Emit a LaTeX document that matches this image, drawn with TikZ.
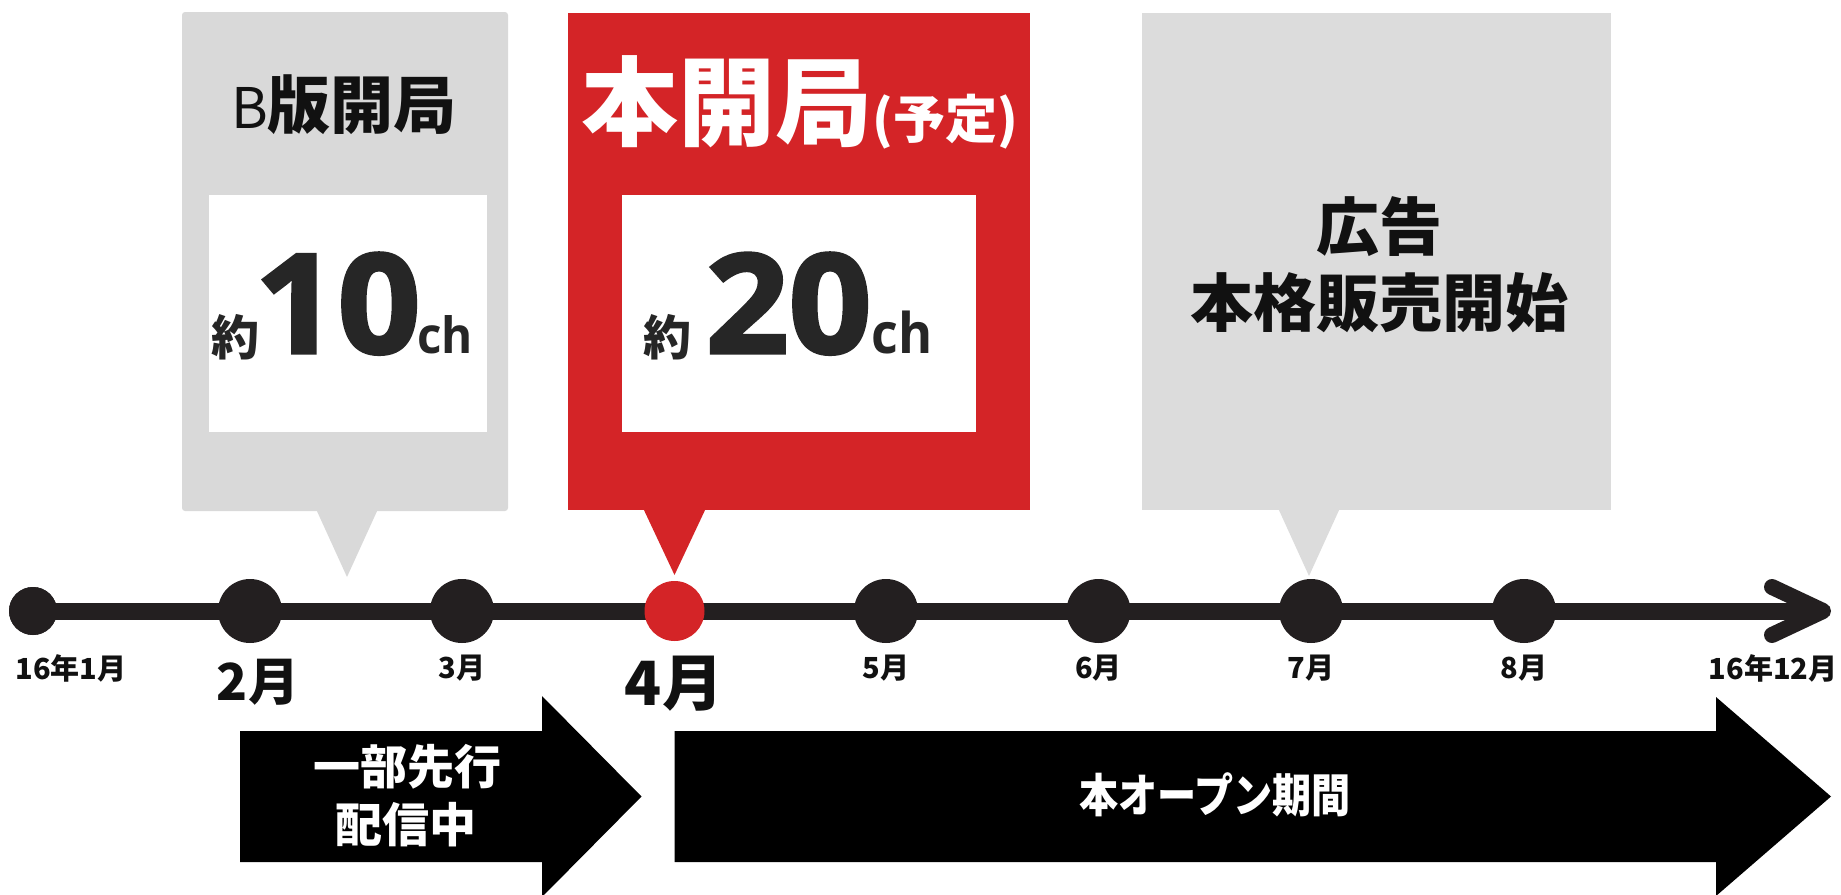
\documentclass[tikz,border=0pt]{standalone}
\usepackage{fontspec}
\usepackage{graphicx}
\newfontfamily\jp{Noto Sans CJK JP}
\newfontfamily\os{Open Sans}
\newfontfamily\osh{Open Sans}[BoldFeatures={FakeBold=2.5}]
\newcommand\FS[1]{\fontsize{#1}{#1}\selectfont}
\definecolor{grayA}{HTML}{D9D9D9}
\definecolor{grayB}{HTML}{DCDCDC}
\definecolor{redA}{HTML}{D42427}
\definecolor{dotc}{HTML}{231F20}
\definecolor{inkA}{HTML}{111111}
\definecolor{inkB}{HTML}{262626}
\tikzset{
  txt/.style={inner sep=0pt, outer sep=0pt},
  panel/.style={rectangle, inner sep=0pt, minimum width=#1},
  tdot/.style={circle, fill=dotc, inner sep=0pt, minimum size=#1},
  mlab/.style={txt, text=inkA, font=\jp\bfseries},
  num/.style={txt, text=inkB},
  bigarrow/.style={fill=black},
}
\begin{document}
\begin{tikzpicture}[x=1pt, y=-1pt]
\useasboundingbox (0,0) rectangle (1841,894);

% callout panels
\node[panel=326pt, minimum height=499pt, fill=grayA, rounded corners=3pt] (b1) at (345,261.5) {};
\fill[grayA] (316,509) -- (378,509) -- (347,577) -- cycle;
\node[panel=462pt, minimum height=497pt, fill=redA] (b2) at (799,261.5) {};
\fill[redA] (643,508) -- (706,508) -- (674.5,575) -- cycle;
\node[panel=469pt, minimum height=497pt, fill=grayB] (b3) at (1376.5,261.5) {};
\fill[grayB] (1278,508) -- (1340,508) -- (1309,576) -- cycle;

\node[panel=278pt, minimum height=237pt, fill=white] (w1) at (348,313.5) {};
\node[panel=354pt, minimum height=237pt, fill=white] (w2) at (799,313.5) {};

% callout texts
\node[txt, anchor=base, text=inkA] (t1) at (344,128)
  {{\jp\FS{56}B}{\jp\bfseries\FS{63}版開局}};
\node[num, anchor=base west] (n1) at (211,353)
  {\raisebox{-2pt}{\jp\bfseries\FS{48}約}\hspace{-4pt}{\osh\bfseries\FS{138}\scalebox{1.05}[1]{10}}\hspace{-3pt}{\os\bfseries\FS{50}\scalebox{0.95}[1]{ch}}};
\node[txt, anchor=base, text=white] (t2) at (800,138)
  {{\jp\bfseries\FS{97}本開局}{\jp\bfseries\FS{52}(予定)}};
\node[num, anchor=base west] (n2) at (643,353)
  {\raisebox{-2pt}{\jp\bfseries\FS{48}約}\hspace{15pt}{\osh\bfseries\FS{138}\scalebox{1.05}[1]{20}}{\os\bfseries\FS{56}\scalebox{0.93}[1]{ch}}};
\node[txt, text=inkA, font=\jp\bfseries\FS{63}] (t3a) at (1379,227) {広告};
\node[txt, text=inkA, font=\jp\bfseries\FS{63}] (t3b) at (1379,303) {本格販売開始};

% timeline
\node[tdot=48pt] (m1) at (33,611) {};
\coordinate (tip) at (1823,611);
\draw[dotc, line width=17pt] (m1.center) -- (tip);
\draw[dotc, line width=16pt, line cap=round, line join=round] (1772,587) -- (tip) -- (1772,635);
\node[tdot=48pt] (m1) at (33,611) {};
\node[tdot=64pt] (m2) at (250,611) {};
\node[tdot=64pt] (m3) at (462,611) {};
\node[circle, fill=redA, inner sep=0pt, minimum size=60pt] (m4) at (674.5,611) {};
\node[tdot=64pt] (m5) at (886,611) {};
\node[tdot=64pt] (m6) at (1098.5,611) {};
\node[tdot=64pt] (m7) at (1311,611) {};
\node[tdot=64pt] (m8) at (1524,611) {};

% month labels
\node[mlab, font=\jp\bfseries\FS{29}] (l1) at (71,668) {16年1月};
\node[mlab, font=\jp\bfseries\FS{51}] (l2) at (258,682) {2月};
\node[mlab, font=\jp\bfseries\FS{29}] (l3) at (462,668) {3月};
\node[mlab, font=\jp\bfseries\FS{61}] (l4) at (674,684) {4月};
\node[mlab, font=\jp\bfseries\FS{29}] (l5) at (886,668) {5月};
\node[mlab, font=\jp\bfseries\FS{29}] (l6) at (1098.5,668) {6月};
\node[mlab, font=\jp\bfseries\FS{29}] (l7) at (1311,668) {7月};
\node[mlab, font=\jp\bfseries\FS{29}] (l8) at (1524,668) {8月};
\node[mlab, font=\jp\bfseries\FS{29}] (l9) at (1773,668) {16年12月};

% period arrows
\fill[bigarrow] (240,731) -- (542,731) -- (542,696) -- (641.5,796.5) -- (542,897) -- (542,862) -- (240,862) -- cycle;
\fill[bigarrow] (674.5,731) -- (1716,731) -- (1716,697) -- (1831,796.5) -- (1716,896) -- (1716,862) -- (674.5,862) -- cycle;
\node[txt, text=white, font=\jp\bfseries\FS{47}] (p1a) at (407,767) {一部先行};
\node[txt, text=white, font=\jp\bfseries\FS{47}] (p1b) at (406,825) {配信中};
\node[txt, text=white, font=\jp\bfseries\FS{46}] (p2) at (1215,795) {\scalebox{0.85}[1]{本オープン期間}};
\end{tikzpicture}
\end{document}
